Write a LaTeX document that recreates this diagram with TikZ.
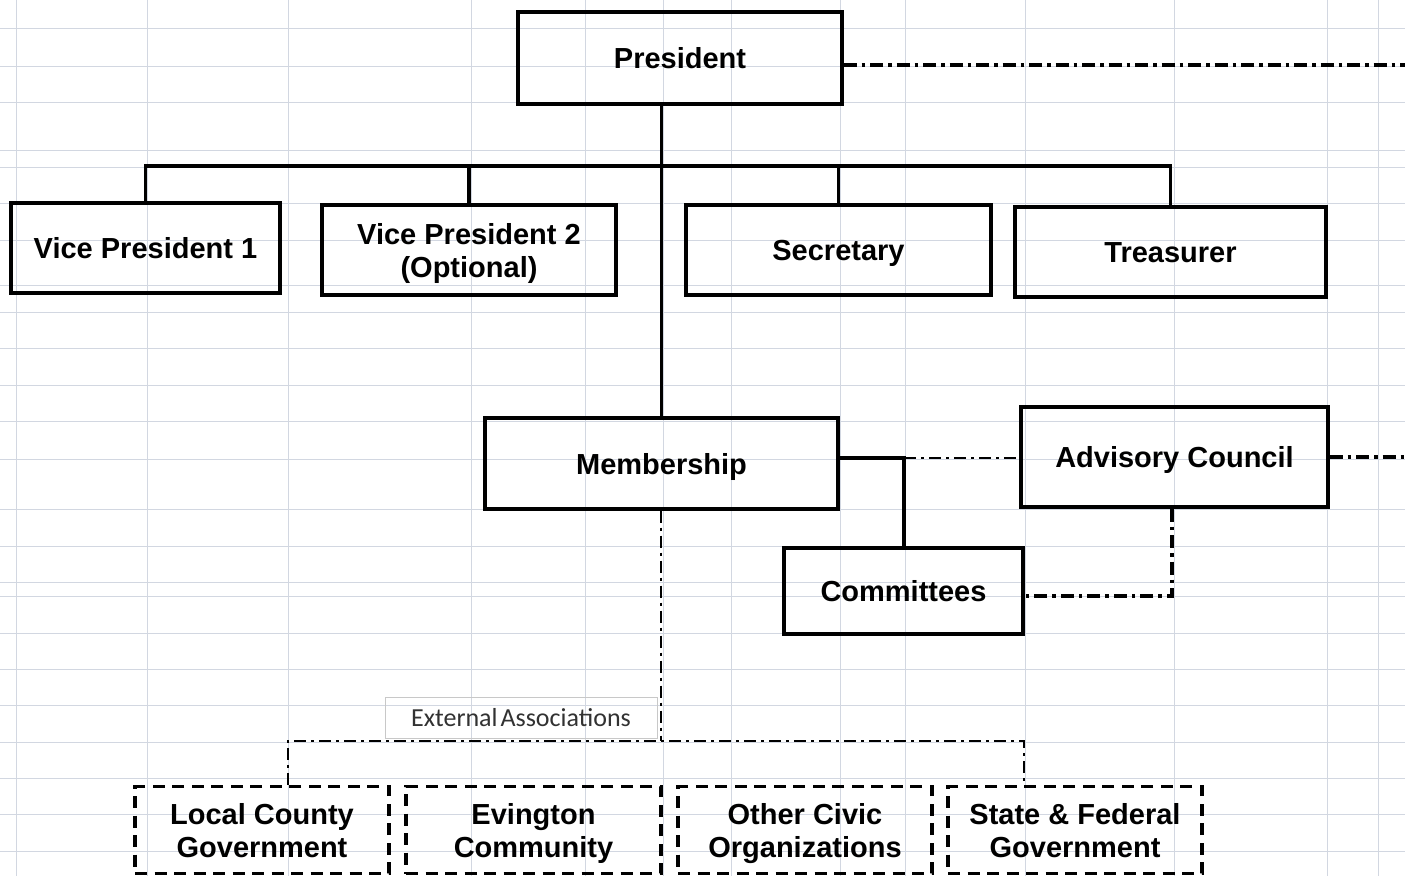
\documentclass[tikz,border=0pt]{standalone}
\usepackage{fontspec}
\setmainfont{Liberation Sans}
\newfontfamily\calib{Carlito}
\newcommand\mytopst{\rule{0pt}{28pt}}
\newcommand\mybotst{\rule[-7pt]{0pt}{7pt}}
\begin{document}
\begin{tikzpicture}[x=1pt,y=-1pt,
  gridl/.style={draw={rgb,255:red,210;green,215;blue,225}, line width=1pt},
  box/.style={draw, line width=3.1pt, inner sep=0pt, align=center, font=\bfseries\fontsize{29}{33}\selectfont},
  dbox/.style={box, dash pattern=on 12pt off 7.5pt},
  conn/.style={line width=3.1pt},
  ddot/.style={line width=3.1pt, dash pattern=on 13pt off 5pt on 3.5pt off 5pt},
  tdd/.style={line width=1.7pt, dash pattern=on 12pt off 5pt on 3pt off 5pt},
  lbl/.style={draw={rgb,255:red,200;green,200;blue,200}, line width=1pt, inner sep=0pt, font=\calib\fontsize{26}{30}\selectfont, text={rgb,255:red,50;green,50;blue,50}}
]
\useasboundingbox (0,0) rectangle (1405,876);
\fill[white] (0,0) rectangle (1405,876);
% spreadsheet grid
\foreach \gx in {16,147,288,471,585,663,731,840,905,1025,1174,1327,1378}
  \draw[gridl] (\gx,0) -- (\gx,876);
\foreach \gy in {28,66,102,150,167,203,240,285,312,348,385,421,459,509,546,582,596,633,669,705,742,778,814,851}
  \draw[gridl] (0,\gy) -- (1405,\gy);

% nodes
\node[box, minimum width=324pt, minimum height=92pt] (pres) at (680,58) {\mytopst President\mybotst};
\node[box, minimum width=269pt, minimum height=90pt] (vp1) at (145.5,248) {\mytopst Vice President 1\mybotst};
\node[box, minimum width=294pt, minimum height=90pt] (vp2) at (469,250) {\mytopst Vice President 2\\(Optional)\mybotst};
\node[box, minimum width=305pt, minimum height=90pt] (sec) at (838.5,250) {\mytopst Secretary\mybotst};
\node[box, minimum width=311pt, minimum height=90pt] (tre) at (1170.5,252) {\mytopst Treasurer\mybotst};
\node[box, minimum width=353pt, minimum height=91pt] (mem) at (661.5,463.5) {\mytopst Membership\mybotst};
\node[box, minimum width=307pt, minimum height=100pt] (adv) at (1174.5,457) {\mytopst Advisory Council\mybotst};
\node[box, minimum width=239pt, minimum height=86pt] (com) at (903.5,591) {\mytopst Committees\mybotst};
\node[lbl, minimum width=272pt, minimum height=41pt] (ext) at (521,717.5) {\raisebox{-3pt}{External\hspace{3pt}Associations}};
\node[dbox, minimum width=254pt, minimum height=87pt] (b1) at (262,830) {\mytopst Local County\\Government\mybotst};
\node[dbox, minimum width=255pt, minimum height=87pt] (b2) at (533.5,830) {\mytopst Evington\\Community\mybotst};
\node[dbox, minimum width=254pt, minimum height=87pt] (b3) at (805,830) {\mytopst Other Civic\\Organizations\mybotst};
\node[dbox, minimum width=254pt, minimum height=87pt] (b4) at (1075,830) {\mytopst State \& Federal\\Government\mybotst};

% helper coordinates
\coordinate (barR) at (1170.5,166);
\coordinate (presR) at (1405,65);
\coordinate (j) at (904,458);
\coordinate (ac) at (1172,596);
\coordinate (ea) at (661,741);
\coordinate (eaL) at (288,741);
\coordinate (eaR) at (1024,741);

% solid connectors
\draw[conn] (mem.north) -- (mem.north |- pres.south);
\draw[conn] (vp1.north) |- (barR) -- (tre.north);
\draw[conn] (vp2.north) -- (vp2.north |- barR);
\draw[conn] (sec.north) -- (sec.north |- barR);
\draw[conn] (mem.east |- j) -- (j) -- (j |- com.north);

% dash-dot connectors
\draw[ddot] (pres.east |- presR) -- (presR);
\draw[ddot] (adv.east) -- (adv.east -| presR);
\draw[ddot] (adv.south -| ac) -- (ac) -- (com.east |- ac);
\draw[tdd] (j) -- (adv.west |- j);
\draw[tdd] (mem.south -| ea) -- (ea);
\draw[tdd] (b1.north -| eaL) -- (eaL) -- (eaR) -- (b4.north -| eaR);
\end{tikzpicture}
\end{document}
